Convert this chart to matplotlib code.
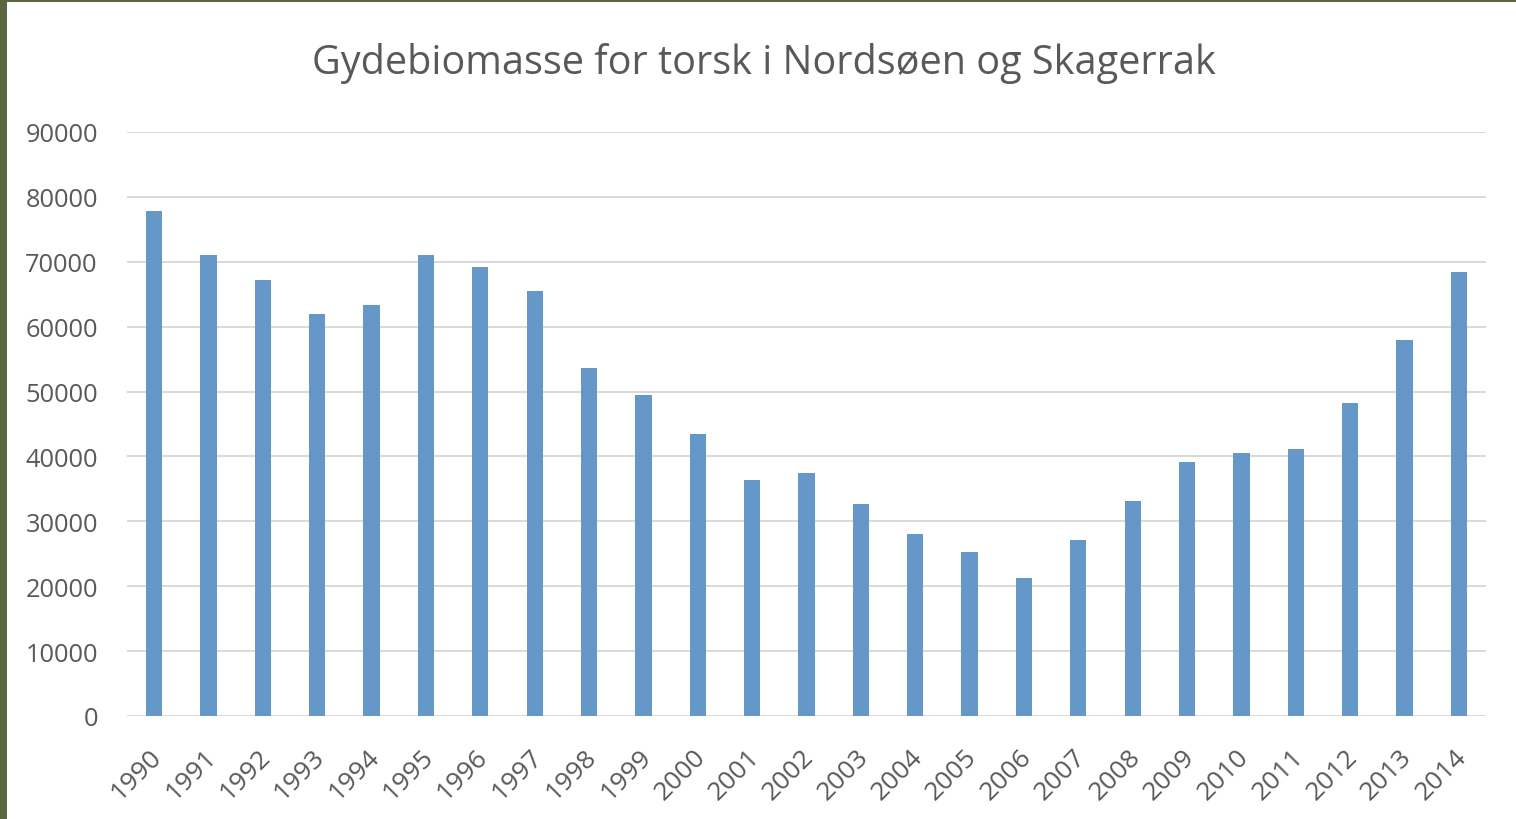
import matplotlib

matplotlib.use("Agg")
import matplotlib.pyplot as plt
from matplotlib.patches import Rectangle
from matplotlib.transforms import ScaledTranslation

years = [str(y) for y in range(1990, 2015)]
biomass = [
    77800, 71000, 67200, 61950, 63400, 71000, 69200, 65500, 53700, 49400,
    43500, 36400, 37400, 32600, 28000, 25300, 21300, 27100, 33100, 39100,
    40600, 41100, 48200, 58000, 68500,
]
y_ticks = list(range(0, 90001, 10000))
title = "Gydebiomasse for torsk i Nordsøen og Skagerrak"

plt.rcParams["font.family"] = ["Open Sans", "DejaVu Sans"]
text_color = "#595959"
bar_color = "#6598c8"
frame_color = "#5c6640"

fig = plt.figure(figsize=(15.16, 8.2), dpi=100)
fig.patch.set_facecolor("white")
# dark slide frame on the left and top edges
fig.patches.append(Rectangle((0, 0), 7 / 1516, 1, transform=fig.transFigure,
                             facecolor=frame_color, edgecolor="none"))
fig.patches.append(Rectangle((0, 1 - 3 / 820), 1, 3 / 820, transform=fig.transFigure,
                             facecolor=frame_color, edgecolor="none"))

ax = fig.add_axes([127 / 1516, 1 - 717 / 820, (1486 - 127) / 1516, (717 - 133) / 820])
ax.set_facecolor("white")
x = range(len(years))
ax.bar(x, biomass, width=0.3, color=bar_color, zorder=3)

ax.set_xlim(-0.5, len(years) - 0.5)
ax.set_ylim(0, 90000)
ax.set_yticks(y_ticks)
ax.set_yticklabels([str(v) for v in y_ticks])
ax.set_xticks(list(x))
ax.set_xticklabels(years, rotation=45, ha="right", rotation_mode="anchor")

ax.grid(axis="y", color="#d9d9d9", linewidth=1.4, zorder=0)
for s in ax.spines.values():
    s.set_visible(False)
ax.tick_params(axis="y", length=0, pad=21, labelsize=18.3, labelcolor=text_color)
ax.tick_params(axis="x", length=0, pad=12, labelsize=19, labelcolor=text_color)

# nudge year labels down and left a little
shift = ScaledTranslation(-5 / 100, -11 / 100, fig.dpi_scale_trans)
for lbl in ax.get_xticklabels():
    lbl.set_transform(lbl.get_transform() + shift)

fig.text(764 / 1516, 1 - 63 / 820, title, ha="center", va="center",
         fontsize=28.5, color=text_color)

fig.savefig("out.png", dpi=100)
